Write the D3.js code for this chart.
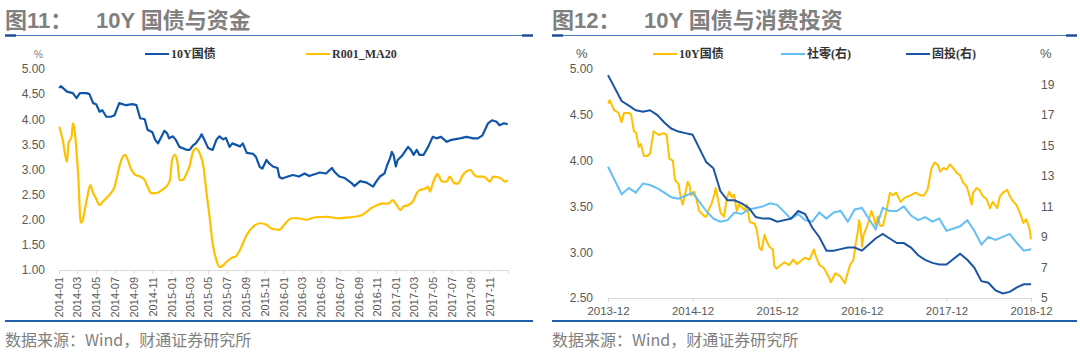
<!DOCTYPE html>
<html><head><meta charset="utf-8">
<script src="https://cdn.jsdelivr.net/npm/d3@7"></script>
<style>
body{margin:0;background:#fff;}
svg{display:block;}
</style></head><body>
<svg id="c" width="1080" height="353"></svg>
<script>
// ---------- DATA ----------
const tenYearDates = [
"2014-01-02","2014-01-07","2014-01-27","2014-02-15","2014-02-27","2014-03-10","2014-04-01","2014-04-10","2014-04-22","2014-05-02",
"2014-05-13","2014-05-22","2014-06-04","2014-06-19","2014-07-01","2014-07-07","2014-07-16","2014-08-07","2014-08-28","2014-09-10",
"2014-09-22","2014-10-07","2014-10-16","2014-11-01","2014-11-10","2014-11-19","2014-12-01","2014-12-10","2014-12-19","2014-12-25",
"2015-01-07","2015-01-16","2015-01-28","2015-02-22","2015-03-02","2015-03-13","2015-03-22","2015-04-04","2015-04-10","2015-04-19",
"2015-05-01","2015-05-16","2015-05-28","2015-06-07","2015-06-19","2015-06-28","2015-07-10","2015-07-19","2015-08-13","2015-08-22",
"2015-09-04","2015-09-25","2015-10-04","2015-10-16","2015-10-25","2015-11-07","2015-11-16","2015-11-28","2015-12-13","2015-12-19",
"2015-12-28","2016-01-16","2016-02-01","2016-02-21","2016-03-10","2016-03-25","2016-04-19","2016-04-28","2016-05-19","2016-06-07",
"2016-06-16","2016-07-01","2016-07-19","2016-08-10","2016-08-19","2016-09-07","2016-09-28","2016-10-19","2016-10-28","2016-11-10",
"2016-11-25","2016-12-04","2016-12-13","2016-12-19","2016-12-25","2017-01-01","2017-01-07","2017-01-22","2017-02-10","2017-02-19",
"2017-02-28","2017-03-10","2017-03-19","2017-04-01","2017-04-16","2017-05-01","2017-05-13","2017-05-28","2017-06-16","2017-07-01",
"2017-07-28","2017-08-19","2017-09-10","2017-09-25","2017-10-10","2017-10-28","2017-11-10","2017-11-25","2017-12-04","2017-12-19",
"2017-12-31","2018-01-16","2018-02-16","2018-02-28","2018-03-13","2018-03-28","2018-04-10","2018-04-19","2018-04-25","2018-05-10",
"2018-05-22","2018-06-07","2018-06-22","2018-07-07","2018-07-19","2018-08-07","2018-08-19","2018-09-01","2018-09-19","2018-10-01",
"2018-10-13","2018-10-28","2018-11-13","2018-11-28","2018-12-10","2018-12-19","2018-12-25","2018-12-31"];
const tenYearValues = [
4.62,4.66,4.55,4.52,4.42,4.52,4.52,4.50,4.32,4.30,
4.15,4.18,4.05,4.05,4.08,4.18,4.32,4.28,4.30,4.28,
4.02,4.00,3.79,3.74,3.59,3.52,3.66,3.77,3.72,3.62,
3.66,3.59,3.45,3.39,3.39,3.48,3.52,3.63,3.70,3.59,
3.43,3.39,3.59,3.66,3.60,3.63,3.45,3.52,3.46,3.52,
3.33,3.31,3.25,3.05,3.02,3.19,3.12,3.06,3.03,2.85,
2.82,2.86,2.89,2.86,2.92,2.87,2.92,2.94,2.92,3.03,
2.95,2.86,2.83,2.73,2.67,2.77,2.74,2.66,2.75,2.86,
2.92,3.09,3.22,3.35,3.28,3.06,3.19,3.28,3.45,3.39,
3.29,3.39,3.29,3.29,3.45,3.65,3.62,3.65,3.55,3.59,
3.62,3.65,3.62,3.62,3.68,3.92,3.98,3.95,3.88,3.92,
3.90,3.96,3.86,3.84,3.76,3.72,3.61,3.52,3.65,3.70,
3.68,3.61,3.58,3.48,3.55,3.48,3.61,3.65,3.68,3.61,
3.56,3.52,3.43,3.32,3.36,3.30,3.25,3.14];

const r001Dates = [
"2014-01-02","2014-01-13","2014-01-27","2014-02-01","2014-02-11","2014-02-15","2014-02-19","2014-03-04","2014-03-13","2014-03-17",
"2014-04-01","2014-04-13","2014-04-22","2014-05-01","2014-05-13","2014-05-22","2014-06-04","2014-06-19","2014-07-01","2014-07-10",
"2014-07-19","2014-08-04","2014-08-13","2014-08-25","2014-09-07","2014-09-22","2014-10-07","2014-10-16","2014-10-28","2014-11-13",
"2014-12-01","2014-12-16","2014-12-28","2015-01-04","2015-01-13","2015-01-22","2015-01-28","2015-02-07","2015-02-22","2015-03-01",
"2015-03-13","2015-03-22","2015-04-04","2015-04-16","2015-04-25","2015-05-07","2015-05-16","2015-05-28","2015-06-07","2015-06-16",
"2015-06-28","2015-07-19","2015-07-28","2015-08-13","2015-09-04","2015-09-25","2015-10-16","2015-11-07","2015-11-25","2015-12-19",
"2016-01-04","2016-01-28","2016-02-16","2016-03-16","2016-04-13","2016-05-22","2016-06-25","2016-08-04","2016-09-07","2016-09-28",
"2016-10-13","2016-11-01","2016-11-19","2016-12-07","2016-12-22","2017-01-04","2017-01-16","2017-01-25","2017-02-10","2017-02-28",
"2017-03-10","2017-03-19","2017-04-07","2017-04-16","2017-04-22","2017-05-01","2017-05-13","2017-05-16","2017-06-01","2017-06-16",
"2017-06-25","2017-07-10","2017-07-22","2017-08-07","2017-09-01","2017-09-10","2017-09-22","2017-10-13","2017-11-04","2017-11-13",
"2017-12-07","2017-12-22","2017-12-31"];
const r001Values = [
3.85,3.59,3.15,3.52,3.65,3.92,3.85,2.93,1.94,1.96,
2.39,2.69,2.53,2.43,2.29,2.35,2.43,2.53,2.66,2.89,
3.12,3.29,3.19,2.99,2.89,2.86,2.79,2.66,2.53,2.53,
2.59,2.66,2.79,3.19,3.29,3.12,2.79,2.79,2.95,3.05,
3.35,3.42,3.32,3.06,2.59,2.00,1.53,1.20,1.06,1.08,
1.15,1.25,1.26,1.40,1.70,1.86,1.93,1.90,1.82,1.80,
1.90,2.03,2.03,2.00,2.05,2.06,2.03,2.05,2.08,2.16,
2.23,2.29,2.32,2.32,2.39,2.29,2.19,2.26,2.29,2.39,
2.53,2.59,2.62,2.66,2.56,2.72,2.89,2.91,2.76,2.76,
2.86,2.73,2.72,2.89,2.99,2.92,2.86,2.86,2.76,2.86,
2.83,2.76,2.79];

const macroMonths = [
"2013-12","2014-02","2014-03","2014-04","2014-05","2014-06","2014-07","2014-08","2014-09","2014-10","2014-11","2014-12",
"2015-02","2015-03","2015-04","2015-05","2015-06","2015-07","2015-08","2015-09","2015-10","2015-11","2015-12",
"2016-02","2016-03","2016-04","2016-05","2016-06","2016-07","2016-08","2016-09","2016-10","2016-11","2016-12",
"2017-02","2017-03","2017-04","2017-05","2017-06","2017-07","2017-08","2017-09","2017-10","2017-11","2017-12",
"2018-02","2018-03","2018-04","2018-05","2018-06","2018-07","2018-08","2018-09","2018-10","2018-11","2018-12"];
const retailValues = [
13.6,11.8,12.2,11.9,12.5,12.4,12.2,11.9,11.6,11.5,11.7,11.9,
10.7,10.2,10.0,10.1,10.6,10.5,10.8,10.9,11.0,11.2,11.1,
10.2,10.5,10.1,10.0,10.6,10.2,10.6,10.7,10.0,10.8,10.9,
9.5,10.9,10.7,10.7,11.0,10.4,10.1,10.3,10.0,10.2,9.4,
9.7,10.1,9.4,8.5,9.0,8.8,9.0,9.2,8.6,8.1,8.2];
const faiValues = [
19.6,17.9,17.6,17.3,17.2,17.3,17.0,16.5,16.1,15.9,15.8,15.7,
13.9,13.5,12.0,11.4,11.4,11.2,10.9,10.3,10.2,10.2,10.0,
10.2,10.7,10.5,9.6,9.0,8.1,8.1,8.2,8.3,8.3,8.1,
8.9,9.2,8.9,8.6,8.6,8.3,7.8,7.5,7.3,7.2,7.2,
7.9,7.5,7.0,6.1,6.0,5.5,5.3,5.4,5.7,5.9,5.9];

const leftTickLabels = ["2014-01","2014-03","2014-05","2014-07","2014-09","2014-11","2015-01","2015-03","2015-05","2015-07","2015-09","2015-11",
"2016-01","2016-03","2016-05","2016-07","2016-09","2016-11","2017-01","2017-03","2017-05","2017-07","2017-09","2017-11","2018-01"];
const rightTickLabels = ["2013-12","2014-12","2015-12","2016-12","2017-12","2018-12"];
const leftYTicks = [1,1.5,2,2.5,3,3.5,4,4.5,5];
const rYLeftTicks = [2.5,3,3.5,4,4.5,5];
const rYRightTicks = [5,7,9,11,13,15,17,19];

// ---------- HELPERS ----------
const svg = d3.select("#c");
const pd = d3.timeParse("%Y-%m-%d");
const pm = d3.timeParse("%Y-%m");
const monthEnd = s => d3.timeDay.offset(d3.timeMonth.offset(pm(s),1),-1);
const tenYear = tenYearDates.map((d,i)=>({date:pd(d), v:tenYearValues[i]}));
const r001 = r001Dates.map((d,i)=>({date:pd(d), v:r001Values[i]}));
const retail = macroMonths.map((m,i)=>({date:monthEnd(m), v:retailValues[i]}));
const fai = macroMonths.map((m,i)=>({date:monthEnd(m), v:faiValues[i]}));

const FONT = "Arial, 'Liberation Sans', 'Noto Sans CJK SC', sans-serif";
const TITLE = "'Liberation Sans', Arial, 'Noto Sans CJK SC', sans-serif";
const CJK = "'Noto Sans CJK SC', sans-serif";
const LEG = "'Liberation Serif','Times New Roman','Noto Sans CJK SC', serif";
const C_YEL = "#ffc000", C_BLUE = "#0f56a8", C_LBLUE = "#64bff5", C_DBLUE = "#1a55a3";

function header(x0, x1, num, rest, restX){
  svg.append("text").attr("x",x0).attr("y",28).attr("font-family",TITLE).attr("font-size",22)
    .attr("font-weight","bold").attr("fill","#808080").text(num);
  svg.append("text").attr("x",restX).attr("y",28).attr("font-family",TITLE).attr("font-size",22)
    .attr("font-weight","bold").attr("fill","#808080").text(rest);
  svg.append("line").attr("x1",x0).attr("x2",x1).attr("y1",35.5).attr("y2",35.5)
    .attr("stroke","#4f7fc0").attr("stroke-width",1);
  svg.append("line").attr("x1",x0).attr("x2",x0+11).attr("y1",35.5).attr("y2",35.5)
    .attr("stroke","#1f4f9a").attr("stroke-width",2.5);
  svg.append("line").attr("x1",x1-11).attr("x2",x1).attr("y1",35.5).attr("y2",35.5)
    .attr("stroke","#1f4f9a").attr("stroke-width",2.5);
  svg.append("line").attr("x1",x0).attr("x2",x1).attr("y1",321).attr("y2",321)
    .attr("stroke","#1f5fab").attr("stroke-width",2);
  svg.append("text").attr("x",x0).attr("y",346).attr("font-family",CJK).attr("font-size",16)
    .attr("fill","#7f7f7f").text("数据来源：Wind，财通证券研究所");
}
function legendItem(x, y, color, label){
  svg.append("line").attr("x1",x).attr("x2",x+24).attr("y1",y).attr("y2",y)
    .attr("stroke",color).attr("stroke-width",2);
  svg.append("text").attr("x",x+26).attr("y",y).attr("dy","0.35em").attr("font-family",LEG)
    .attr("font-weight","bold").attr("font-size",12).attr("fill","#333").text(label);
}
function styleAxis(g){
  g.select(".domain").attr("stroke","#d9d9d9");
  g.selectAll(".tick line").attr("stroke","#d9d9d9");
  g.selectAll("text").attr("fill","#595959").attr("font-family",FONT).attr("font-size",11);
}

// ---------- LEFT CHART ----------
header(5, 533, "图11：", "10Y 国债与资金", 96);
const xL = d3.scaleTime().domain([pd("2014-01-01"), pd("2018-01-01")]).range([59, 508]);
const yL = d3.scaleLinear().domain([1,5]).range([270, 69]);
const gxL = svg.append("g").attr("transform","translate(0,270)")
  .call(d3.axisBottom(xL).tickValues(leftTickLabels.map(pm)).tickSize(4).tickSizeOuter(0)
    .tickFormat(d => { const s = d3.timeFormat("%Y-%m")(d); return s==="2018-01" ? "" : s; }));
styleAxis(gxL);
gxL.selectAll("text").attr("transform","rotate(-90)").attr("text-anchor","end")
  .attr("x",-7).attr("y",0).attr("dy","0.35em");
const gyL = svg.append("g").attr("transform","translate(48,0)")
  .call(d3.axisLeft(yL).tickValues(leftYTicks).tickSize(0).tickFormat(d3.format(".2f")));
styleAxis(gyL); gyL.select(".domain").remove();
gyL.selectAll("text").attr("x",-3).attr("font-size",12);

const lineL = d3.line().x(d=>xL(d.date)).y(d=>yL(d.v));
svg.append("path").datum(tenYear.filter(d=>d.date<=pd("2018-01-01")))
  .attr("d",lineL).attr("fill","none").attr("stroke",C_BLUE).attr("stroke-width",2.2).attr("stroke-linejoin","round");
svg.append("path").datum(r001).attr("d",lineL.curve(d3.curveMonotoneX)).attr("fill","none")
  .attr("stroke",C_YEL).attr("stroke-width",2.2).attr("stroke-linejoin","round");

svg.append("text").attr("x",34).attr("y",54).attr("dy","0.35em").attr("font-family",FONT)
  .attr("font-size",10).attr("fill","#7f7f7f").text("%");
legendItem(145, 54, C_BLUE, "10Y国债");
legendItem(306, 54, C_YEL, "R001_MA20");

// ---------- RIGHT CHART ----------
header(552, 1077, "图12：", "10Y 国债与消费投资", 644);
const xR = d3.scaleTime().domain([monthEnd("2013-12"), monthEnd("2018-12")]).range([608, 1031]);
const yRL = d3.scaleLinear().domain([2.5,5]).range([298, 69]);
const yRR = d3.scaleLinear().domain([5,20]).range([298, 69]);
const gxR = svg.append("g").attr("transform","translate(0,298)")
  .call(d3.axisBottom(xR).tickValues(rightTickLabels.map(monthEnd)).tickSize(4).tickSizeOuter(0)
    .tickFormat(d3.timeFormat("%Y-%m")));
styleAxis(gxR);
gxR.selectAll("text").attr("y",9).attr("font-size",11.5);
const gyRL = svg.append("g").attr("transform","translate(596,0)")
  .call(d3.axisLeft(yRL).tickValues(rYLeftTicks).tickSize(0).tickFormat(d3.format(".2f")));
styleAxis(gyRL); gyRL.select(".domain").remove();
gyRL.selectAll("text").attr("x",-3).attr("font-size",12);
const gyRR = svg.append("g").attr("transform","translate(1038,0)")
  .call(d3.axisRight(yRR).tickValues(rYRightTicks).tickSize(0).tickFormat(d3.format("d")));
styleAxis(gyRR); gyRR.select(".domain").remove();
gyRR.selectAll("text").attr("x",3).attr("font-size",12);

svg.append("path").datum(tenYear).attr("d", d3.line().x(d=>xR(d.date)).y(d=>yRL(d.v)))
  .attr("fill","none").attr("stroke",C_YEL).attr("stroke-width",2).attr("stroke-linejoin","round");
const lineRR = d3.line().x(d=>xR(d.date)).y(d=>yRR(d.v));
svg.append("path").datum(retail).attr("d",lineRR).attr("fill","none").attr("stroke",C_LBLUE).attr("stroke-width",2);
svg.append("path").datum(fai).attr("d",lineRR).attr("fill","none").attr("stroke",C_DBLUE).attr("stroke-width",2);

svg.append("text").attr("x",576).attr("y",53).attr("dy","0.35em").attr("font-family",FONT)
  .attr("font-size",13).attr("fill","#595959").text("%");
svg.append("text").attr("x",1040).attr("y",53).attr("dy","0.35em").attr("font-family",FONT)
  .attr("font-size",13).attr("fill","#595959").text("%");
legendItem(653, 54, C_YEL, "10Y国债");
legendItem(781, 54, C_LBLUE, "社零(右)");
legendItem(906, 54, C_DBLUE, "固投(右)");
</script>
</body></html>
